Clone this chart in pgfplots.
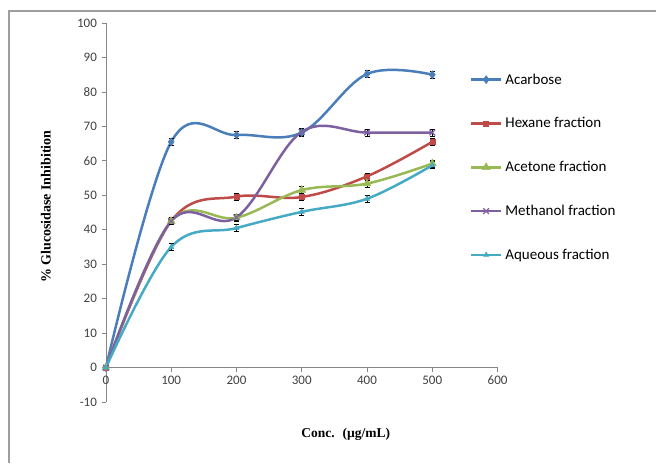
\documentclass[border=0pt]{standalone}
\usepackage{pgfplots}
\pgfplotsset{compat=1.18}
\usepackage{fontspec}
\setmainfont{Carlito}
\newfontfamily\timesf{Liberation Serif}
\definecolor{cA}{HTML}{4A7EBB}
\definecolor{cH}{HTML}{BE4B48}
\definecolor{cC}{HTML}{98B954}
\definecolor{cM}{HTML}{7D60A0}
\definecolor{cQ}{HTML}{46AAC5}
\definecolor{axgray}{HTML}{868686}
\definecolor{tkgray}{HTML}{404040}
\begin{document}
\begin{tikzpicture}[x=1bp,y=1bp]
\path (0,0) rectangle (657,463);
\draw[axgray!80, line width=1.2bp] (9,0) -- (9,452) -- (657,452);
\begin{axis}[
  at={(106bp,60.5bp)}, anchor=south west,
  scale only axis, width=392bp, height=379.5bp,
  xmin=0, xmax=600, ymin=-10, ymax=100,
  axis x line*=middle, axis y line*=left,
  hide obscured x ticks=false, hide obscured y ticks=false,
  axis line style={axgray, line width=0.8bp},
  xtick={0,100,...,600}, ytick={-10,0,...,100},
  tick align=outside, major tick length=4bp,
  tick style={axgray, line width=0.8bp},
  ticklabel style={font=\fontsize{13bp}{15bp}\selectfont, text=tkgray},
  yticklabel style={xshift=-1.5bp},
  /pgf/number format/assume math mode=true,
  xticklabel style={yshift=-1bp},
  legend style={at={(0.929,0.872)}, anchor=north west, draw=none, fill=none,
    font=\fontsize{15bp}{17bp}\selectfont, row sep=28bp, inner sep=0pt,
    nodes={inner xsep=3bp}},
  legend cell align=left,
  legend image code/.code={\draw[mark repeat=2, mark phase=2, #1, line width=2.5bp] plot coordinates {(0bp,0bp) (15bp,0bp) (30bp,0bp)};},
  every axis plot/.append style={line width=2.5bp, smooth, tension=0.6},
  error bars/y dir=both, error bars/y explicit,
  error bars/error bar style={black, line width=0.8bp, solid},
  error bars/error mark options={black, mark size=2.5bp, line width=0.8bp, rotate=90},
  clip=false,
]
\addplot[cA, mark=diamond*, mark size=4bp, mark options={solid, line width=0.5bp}] coordinates {
 (0,0) +- (0,0.5) (100,65.5) +- (0,1) (200,67.5) +- (0,1) (300,68.2) +- (0,1) (400,85.2) +- (0,1) (500,85) +- (0,1)};
\addlegendentry{Acarbose}
\addplot[cH, mark=square*, mark size=2.5bp, mark options={solid, line width=0.5bp}] coordinates {
 (0,0) +- (0,0.5) (100,42.5) +- (0,1) (200,49.6) +- (0,1) (300,49.5) +- (0,1) (400,55.5) +- (0,1) (500,65.5) +- (0,1)};
\addlegendentry{Hexane fraction}
\addplot[cC, mark=triangle*, mark size=4.5bp, mark options={solid, line width=0.5bp}] coordinates {
 (0,0) +- (0,0.5) (100,42.5) +- (0,1) (200,43.5) +- (0,1) (300,51.5) +- (0,1) (400,53.4) +- (0,1) (500,59.2) +- (0,1)};
\addlegendentry{Acetone fraction}
\addplot[cM, mark=x, mark size=4bp, mark options={solid, line width=1.2bp}] coordinates {
 (0,0) +- (0,0.5) (100,42.5) +- (0,1) (200,43.6) +- (0,1) (300,68.4) +- (0,1) (400,68.2) +- (0,1) (500,68.2) +- (0,1)};
\addlegendentry{Methanol fraction}
\addplot[cQ, mark=triangle*, mark size=3bp, mark options={solid, line width=0.5bp}] coordinates {
 (0,0) +- (0,0.5) (100,35) +- (0,1) (200,40.5) +- (0,1) (300,45.2) +- (0,1) (400,49) +- (0,1) (500,58.7) +- (0,1)};
\addlegendentry{Aqueous fraction}
\end{axis}
\node[rotate=90, font=\timesf\bfseries\fontsize{14bp}{15bp}\selectfont] at (46,463-207) {\% Glucosidase Inhibition};
\node[font=\timesf\bfseries\fontsize{13.5bp}{15bp}\selectfont] at (346,463-435) {Conc.~ (µg/mL)};
\end{tikzpicture}
\end{document}
